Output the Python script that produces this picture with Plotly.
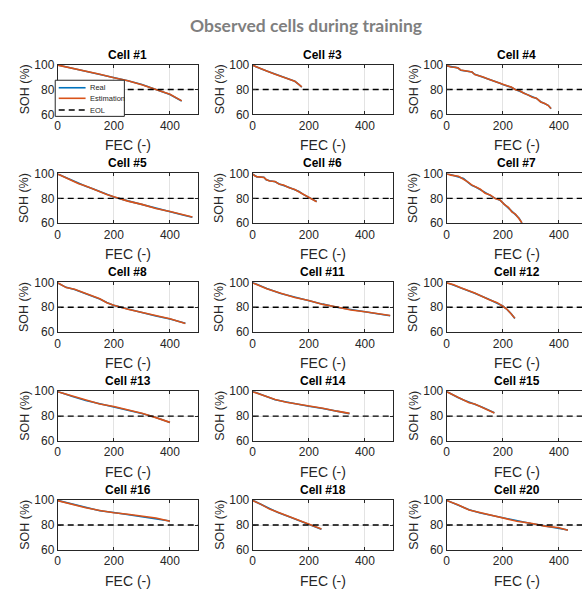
import plotly.graph_objects as go

# ---------------- data ----------------
cells = ["Cell #1", "Cell #3", "Cell #4", "Cell #5", "Cell #6", "Cell #7", "Cell #8", "Cell #11",
         "Cell #12", "Cell #13", "Cell #14", "Cell #15", "Cell #16", "Cell #18", "Cell #20"]

fec_c1 = [0, 50, 100, 150, 200, 250, 300, 350, 400, 442]
real_c1 = [99.7, 97.2, 94.6, 92.1, 89.6, 87.0, 84.0, 80.3, 76.0, 70.8]
est_c1 = [99.6, 97.3, 94.5, 92.2, 89.5, 87.1, 83.9, 80.2, 76.2, 70.9]

fec_c3 = [0, 10, 25, 50, 75, 100, 125, 150, 162, 175]
real_c3 = [99.5, 98.3, 97.0, 94.8, 92.7, 90.8, 88.8, 86.6, 84.5, 82.0]
est_c3 = [99.4, 98.4, 96.9, 94.9, 92.6, 90.9, 88.7, 86.7, 84.4, 82.1]

fec_c4 = [0, 15, 30, 40, 50, 70, 90, 100, 115, 130, 145, 160, 175, 190, 200, 215, 230, 245,
          260, 275, 290, 305, 320, 335, 350, 362, 372]
real_c4 = [99.0, 98.3, 97.8, 97.4, 95.5, 94.8, 94.0, 92.2, 91.0, 90.3, 88.5, 87.6, 86.5, 85.0,
           84.0, 83.2, 81.8, 80.0, 78.8, 77.2, 75.5, 74.0, 72.8, 70.2, 68.6, 67.3, 64.5]
est_c4 = [99.2, 98.1, 97.9, 97.2, 95.7, 94.6, 94.1, 92.0, 91.2, 90.1, 88.7, 87.4, 86.7, 84.8,
          84.2, 83.0, 82.0, 79.8, 79.0, 77.0, 75.7, 73.8, 73.0, 70.0, 68.8, 67.1, 64.7]

fec_c5 = [0, 25, 50, 75, 100, 125, 150, 175, 200, 250, 300, 350, 400, 450, 480]
real_c5 = [99.5, 97.0, 94.3, 92.0, 89.8, 87.8, 85.6, 83.4, 81.2, 78.0, 75.0, 72.0, 69.2, 66.5, 64.8]
est_c5 = [99.6, 96.8, 94.5, 91.8, 90.0, 87.6, 85.8, 83.2, 81.4, 77.8, 75.2, 71.8, 69.4, 66.3, 65.0]

fec_c6 = [0, 8, 15, 40, 48, 60, 80, 95, 110, 130, 150, 165, 180, 200, 215, 228]
real_c6 = [99.5, 98.2, 97.3, 97.0, 95.0, 94.2, 93.3, 91.5, 90.5, 88.8, 87.0, 85.5, 83.2, 81.0, 79.2, 77.5]
est_c6 = [99.7, 98.0, 97.5, 96.8, 95.2, 94.0, 93.5, 91.3, 90.7, 88.6, 87.2, 85.3, 83.4, 80.8, 79.4, 77.3]

fec_c7 = [0, 15, 42, 60, 75, 89, 105, 120, 137, 155, 173, 190, 205, 220, 232, 245, 258, 268]
real_c7 = [100.0, 99.0, 97.5, 96.0, 93.0, 90.5, 89.0, 87.0, 84.4, 82.5, 80.0, 78.5, 75.5, 72.5,
           69.5, 67.0, 64.0, 60.2]
est_c7 = [99.8, 98.7, 97.8, 95.7, 93.3, 90.8, 88.7, 87.3, 84.1, 82.8, 79.8, 78.8, 75.2, 72.8,
          69.2, 67.3, 63.7, 60.4]

fec_c8 = [0, 15, 30, 60, 100, 150, 175, 200, 250, 300, 350, 400, 455]
real_c8 = [99.5, 97.5, 96.0, 94.2, 91.0, 86.6, 83.9, 81.5, 78.6, 75.6, 73.0, 70.6, 67.2]
est_c8 = [99.7, 97.8, 95.8, 94.4, 90.8, 86.8, 83.7, 81.7, 78.4, 75.8, 72.8, 70.8, 67.0]

fec_c11 = [0, 25, 50, 100, 150, 200, 250, 300, 350, 400, 450, 490]
real_c11 = [99.8, 97.2, 95.0, 91.0, 88.0, 85.2, 82.5, 80.0, 78.0, 76.2, 74.6, 73.2]
est_c11 = [99.6, 97.4, 94.8, 91.2, 87.8, 85.4, 82.3, 80.2, 77.8, 76.4, 74.4, 73.4]

fec_c12 = [0, 25, 50, 100, 150, 180, 200, 215, 230, 243]
real_c12 = [99.8, 97.8, 95.8, 91.2, 86.5, 83.5, 81.0, 78.2, 74.8, 71.0]
est_c12 = [99.6, 98.0, 95.6, 91.4, 86.3, 83.7, 80.8, 78.4, 74.6, 71.2]

fec_c13 = [0, 25, 50, 100, 150, 200, 250, 300, 350, 400]
real_c13 = [99.8, 97.8, 96.0, 92.6, 90.0, 87.5, 85.0, 82.2, 79.0, 74.8]
est_c13 = [99.6, 98.0, 95.8, 92.8, 89.8, 87.7, 84.8, 82.4, 78.8, 75.0]

fec_c14 = [0, 25, 50, 80, 120, 160, 200, 250, 300, 345]
real_c14 = [99.8, 97.6, 95.6, 93.2, 91.4, 89.6, 88.0, 86.2, 84.2, 82.0]
est_c14 = [99.6, 97.8, 95.4, 93.4, 91.2, 89.8, 87.8, 86.4, 84.0, 82.2]

fec_c15 = [0, 20, 40, 60, 80, 100, 125, 150, 170]
real_c15 = [99.8, 97.3, 95.0, 93.0, 91.0, 89.5, 87.4, 85.0, 82.8]
est_c15 = [99.6, 97.5, 94.8, 93.2, 90.8, 89.7, 87.2, 85.2, 82.6]

fec_c16 = [0, 25, 50, 100, 150, 200, 250, 300, 350, 400]
real_c16 = [99.8, 98.4, 97.0, 94.0, 91.5, 90.0, 88.4, 87.0, 85.4, 83.2]
est_c16 = [99.6, 98.2, 97.2, 93.8, 91.7, 89.8, 88.6, 86.8, 85.6, 83.0]

fec_c18 = [0, 30, 60, 90, 130, 170, 200, 225, 245]
real_c18 = [99.8, 96.4, 93.0, 90.0, 86.6, 83.2, 80.8, 78.6, 76.6]
est_c18 = [99.6, 96.6, 92.8, 90.2, 86.8, 83.0, 81.0, 78.4, 76.8]

fec_c20 = [0, 40, 80, 120, 160, 200, 250, 300, 350, 400, 432]
real_c20 = [99.8, 96.0, 92.2, 89.6, 87.6, 85.6, 83.2, 81.2, 79.3, 77.6, 76.0]
est_c20 = [99.6, 96.2, 92.0, 89.8, 87.4, 85.8, 83.0, 81.4, 79.1, 77.8, 75.8]

fec_all = [fec_c1, fec_c3, fec_c4, fec_c5, fec_c6, fec_c7, fec_c8, fec_c11,
           fec_c12, fec_c13, fec_c14, fec_c15, fec_c16, fec_c18, fec_c20]
real_all = [real_c1, real_c3, real_c4, real_c5, real_c6, real_c7, real_c8, real_c11,
            real_c12, real_c13, real_c14, real_c15, real_c16, real_c18, real_c20]
est_all = [est_c1, est_c3, est_c4, est_c5, est_c6, est_c7, est_c8, est_c11,
           est_c12, est_c13, est_c14, est_c15, est_c16, est_c18, est_c20]

eol_soh = 80
fec_max = 500
x_ticks = [0, 200, 400]
y_ticks = [60, 80, 100]
y_range = [60, 100]
legend_names = ["Real", "Estimation", "EOL"]

# ---------------- style ----------------
W, H = 582, 595
BLUE = "#0072BD"
ORANGE = "#D95319"
AX = "#262626"
GRID = "#e3e3e3"
FONT = "Liberation Sans, Arial, sans-serif"

col_left = [55, 251, 446]
plot_w = 141
row_top = [59, 170.5, 282, 393.5, 505]
plot_h = 51

fig = go.Figure()
layout = dict(width=W, height=H, margin=dict(l=0, r=0, t=0, b=0),
              plot_bgcolor="white", paper_bgcolor="white", showlegend=False,
              font=dict(family=FONT, color=AX))
annotations = []
shapes = []

for i, name in enumerate(cells):
    k = i + 1
    r, c = divmod(i, 3)
    x0 = col_left[c]
    x1 = min(x0 + plot_w, W)
    visible_max = fec_max * (x1 - x0) / plot_w
    y_top = row_top[r]
    y_bot = y_top + plot_h
    xa = "xaxis" if k == 1 else f"xaxis{k}"
    ya = "yaxis" if k == 1 else f"yaxis{k}"
    xs = "x" if k == 1 else f"x{k}"
    ys = "y" if k == 1 else f"y{k}"
    cut = x1 < x0 + plot_w
    layout[xa] = dict(domain=[x0 / W, x1 / W], anchor=ys, range=[0, visible_max],
                      tickvals=x_ticks, showgrid=True, gridcolor=GRID, gridwidth=1,
                      zeroline=False, showline=True, linecolor=AX, linewidth=1,
                      mirror="ticks", ticks="inside", ticklen=3, tickcolor=AX,
                      tickfont=dict(size=12, color=AX, family=FONT), fixedrange=True)
    layout[ya] = dict(domain=[1 - y_bot / H, 1 - y_top / H], anchor=xs, range=y_range,
                      tickvals=y_ticks, showgrid=True, gridcolor=GRID, gridwidth=1,
                      zeroline=False, showline=True, linecolor=AX, linewidth=1,
                      mirror=False if cut else "ticks", ticks="inside", ticklen=3,
                      tickcolor=AX, tickfont=dict(size=12, color=AX, family=FONT),
                      fixedrange=True)

    fig.add_trace(go.Scatter(x=fec_all[i], y=real_all[i], mode="lines", name=legend_names[0],
                             line=dict(color=BLUE, width=1.6), xaxis=xs, yaxis=ys))
    fig.add_trace(go.Scatter(x=fec_all[i], y=est_all[i], mode="lines", name=legend_names[1],
                             line=dict(color=ORANGE, width=1.6), xaxis=xs, yaxis=ys))
    fig.add_trace(go.Scatter(x=[0, fec_max], y=[eol_soh, eol_soh], mode="lines",
                             name=legend_names[2], line=dict(color="black", width=1.3, dash="6px,4px"),
                             xaxis=xs, yaxis=ys))

    annotations.append(dict(text=f"<b>{name}</b>", xref=xs, x=fec_max / 2, yref=f"{ys} domain",
                            y=1, yanchor="bottom", xanchor="center", yshift=1, showarrow=False,
                            font=dict(size=12, color="black", family=FONT)))
    annotations.append(dict(text="FEC (-)", xref=xs, x=fec_max / 2, yref=f"{ys} domain",
                            y=0, yanchor="middle", xanchor="center", yshift=-31, showarrow=False,
                            font=dict(size=14, color=AX, family=FONT)))
    annotations.append(dict(text="SOH (%)", xref=f"{xs} domain", x=0, xshift=-33,
                            yref=f"{ys} domain", y=0.5, xanchor="center", yanchor="middle",
                            textangle=-90, showarrow=False,
                            font=dict(size=12.5, color=AX, family=FONT)))

annotations.append(dict(text="<b>Observed cells during training</b>", xref="paper", yref="paper",
                        x=305 / W, y=1 - 19 / H, xanchor="center", yanchor="middle",
                        showarrow=False, font=dict(size=17.5, color="#7f7f7f", family="Lato, sans-serif")))


def px(x):
    return x / W


def py(y):
    return 1 - y / H


shapes.append(dict(type="rect", xref="paper", yref="paper", x0=px(52.5), x1=px(122), y0=py(112),
                   y1=py(75), line=dict(color=AX, width=1), fillcolor="white", layer="above"))
key_y = [82.7, 93.5, 105.5]
key_style = [dict(color=BLUE, width=1.6), dict(color=ORANGE, width=1.6),
             dict(color="black", width=1.3, dash="6px,4px")]
for yy, nm, st in zip(key_y, legend_names, key_style):
    shapes.append(dict(type="line", xref="paper", yref="paper", x0=px(56), x1=px(83),
                       y0=py(yy), y1=py(yy), line=st, layer="above"))
    annotations.append(dict(text=nm, xref="paper", yref="paper", x=px(85), y=py(yy),
                            xanchor="left", yanchor="middle", showarrow=False,
                            font=dict(size=7.5, color=AX, family=FONT)))

layout["annotations"] = annotations
layout["shapes"] = shapes
fig.update_layout(**layout)
fig.write_html("out.html", config={"displayModeBar": False},
               post_script="document.body.style.margin='0';document.body.style.overflow='hidden';")
